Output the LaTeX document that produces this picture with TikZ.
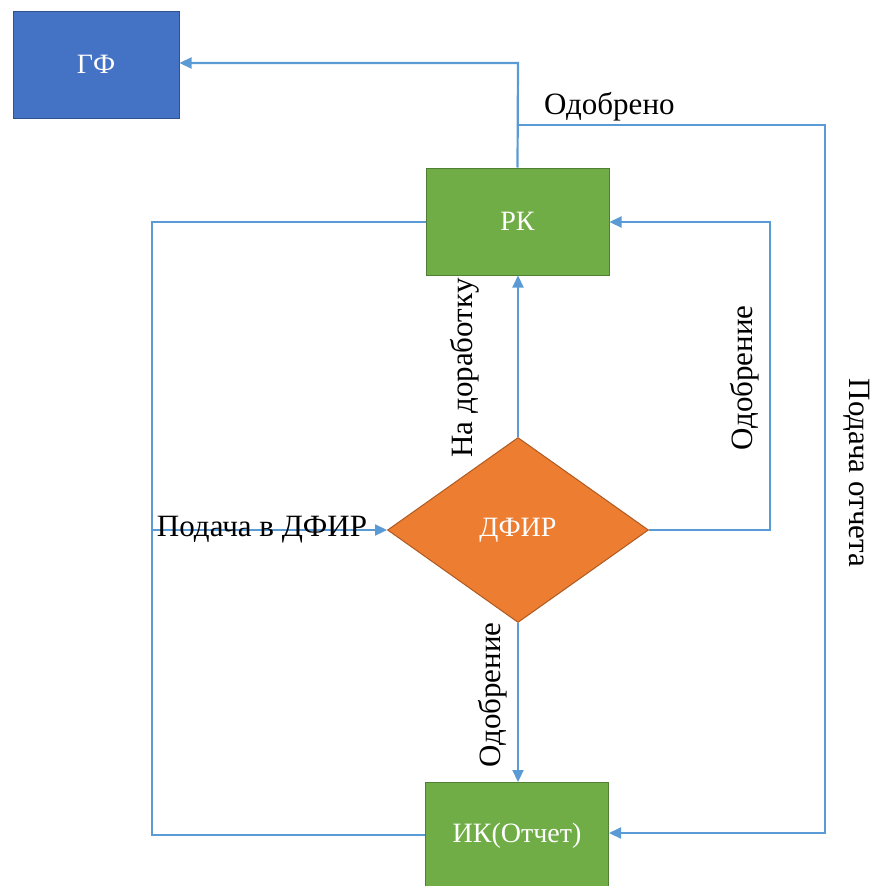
\documentclass[tikz,border=0pt]{standalone}
\usepackage{fontspec}
\setmainfont{Liberation Serif}
\usetikzlibrary{arrows.meta,shapes.geometric}
\definecolor{lineblue}{HTML}{5B9BD5}
\definecolor{boxblue}{HTML}{4472C4}
\definecolor{boxblueB}{HTML}{2F528F}
\definecolor{boxgreen}{HTML}{70AD47}
\definecolor{boxgreenB}{HTML}{507E32}
\definecolor{boxorange}{HTML}{ED7D31}
\definecolor{boxorangeB}{HTML}{AE5A21}
\tikzset{
  conn/.style={draw=lineblue, line width=2.2pt},
  arr/.style={conn, -{Triangle[length=12pt,width=11pt]}},
  greenbox/.style={draw=boxgreenB, fill=boxgreen, line width=1pt, minimum width=183pt, minimum height=107pt, inner sep=0pt, text=white, font=\fontsize{28}{32}\selectfont},
  lbl/.style={font=\fontsize{31}{36}\selectfont, inner sep=0pt}
}
\begin{document}
\begin{tikzpicture}[x=1pt,y=-1pt]
\useasboundingbox (0,0) rectangle (875,886);
\node[draw=boxblueB, fill=boxblue, line width=1pt, minimum width=166pt, minimum height=107pt, inner sep=0pt, text=white, font=\fontsize{28}{32}\selectfont] (gf) at (96,64.5) {ГФ};
\node[greenbox] (rk) at (517.5,221.5) {РК};
\node[greenbox] (ik) at (517,836) {ИК(Отчет)};
\node[diamond, draw=boxorangeB, fill=boxorange, line width=1pt, minimum width=261pt, minimum height=185pt, inner sep=0pt, text=white, font=\fontsize{28}{32}\selectfont] (dfir) at (518,530) {ДФИР};
\coordinate (top) at (518,63);
\coordinate (j1) at (518,125);
\coordinate (r1) at (825,125);
\coordinate (r2) at (825,833);
\coordinate (l1) at (152,222);
\coordinate (l2) at (152,835);
\coordinate (lm) at (152,530);
\coordinate (m1) at (770,530);
\coordinate (m2) at (770,222);
% connectors
\draw[arr] (rk.north) -- (top) -- (gf.east |- top);
\draw[arr] (j1) -- (r1) -- (r2) -- (ik.east |- r2);
\draw[conn] (rk.west |- l1) -- (l1) -- (l2) -- (ik.west |- l2);
\draw[arr] (lm) -- (dfir.west);
\draw[arr] (dfir.north) -- (rk.south -| dfir.north);
\draw[arr] (dfir.east) -- (m1) -- (m2) -- (rk.east |- m2);
\draw[arr] (dfir.south) -- (ik.north -| dfir.south);
% labels
\node[lbl, anchor=base west] (la) at (544,114) {Одобрено};
\node[lbl, rotate=-90] (lb) at (857,473) {Подача отчета};
\node[lbl, rotate=90] (lc) at (745,378) {Одобрение};
\node[lbl, rotate=90] (ld) at (465,368) {На доработку};
\node[lbl] (le) at (262,530) {Подача в ДФИР};
\node[lbl, rotate=90] (lf) at (493,695) {Одобрение};
\end{tikzpicture}
\end{document}
